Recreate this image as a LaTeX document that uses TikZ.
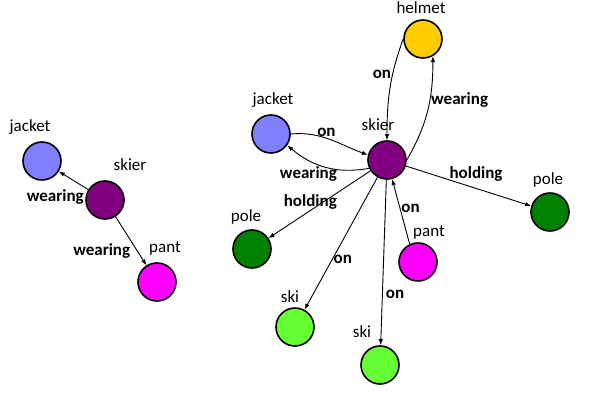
\documentclass[tikz,border=0pt]{standalone}
\usepackage{fontspec}
\setmainfont{Carlito}
\usetikzlibrary{arrows.meta, positioning}
\definecolor{jacketblue}{HTML}{8080FF}
\definecolor{skierpurple}{HTML}{800080}
\definecolor{pantpink}{HTML}{FF00FF}
\definecolor{helmetgold}{HTML}{FFCC00}
\definecolor{polegreen}{HTML}{008000}
\definecolor{skigreen}{HTML}{66FF33}

\begin{document}
\begin{tikzpicture}[
    x=1pt, y=1pt,
    % objetos del grafo de escena
    obj/.style={circle, draw=black, line width=1.6pt, minimum size=38pt, inner sep=0pt},
    objname/.style={font=\fontsize{17}{17}\selectfont, inner sep=0pt},
    % relaciones
    rel/.style={font=\fontsize{17}{17}\selectfont\bfseries, inner sep=1pt},
    arrow/.style={-{Latex[length=6pt, width=4.5pt]}, line width=0.9pt}
]
    \useasboundingbox (0,0) rectangle (598,408);

    % --- GRAFO IZQUIERDO ---
    \node[obj, fill=jacketblue]  (jacketL) at (42, 247)  {};
    \node[obj, fill=skierpurple] (skierL)  at (105, 208) {};
    \node[obj, fill=pantpink]    (pantL)   at (157, 126) {};

    \node[objname] (jacketLtxt) at (30, 281)  {jacket};
    \node[objname] (skierLtxt)  at (130, 243) {skier};
    \node[objname] (pantLtxt)   at (165, 160) {pant};

    \draw[arrow] (skierL) -- node[rel, pos=0.1, anchor=north east] (wearL1) {wearing} (jacketL);
    \draw[arrow] (skierL) -- node[rel, pos=0.52, anchor=north east] (wearL2) {wearing} (pantL);

    % --- GRAFO DERECHO ---
    \node[obj, fill=helmetgold]  (helmet)  at (423, 369) {};
    \node[obj, fill=jacketblue]  (jacketR) at (271, 274) {};
    \node[obj, fill=skierpurple] (skierR)  at (387, 248) {};
    \node[obj, fill=polegreen]   (poleR)   at (550, 196) {};
    \node[obj, fill=polegreen]   (poleL)   at (252, 159) {};
    \node[obj, fill=pantpink]    (pantR)   at (418, 146) {};
    \node[obj, fill=skigreen]    (skiA)    at (295, 81)  {};
    \node[obj, fill=skigreen]    (skiB)    at (380, 43)  {};

    \node[objname] (helmettxt)  at (421, 400) {helmet};
    \node[objname] (jacketRtxt) at (273, 308) {jacket};
    \node[objname] (skierRtxt)  at (378, 283) {skier};
    \node[objname] (poleRtxt)   at (548, 228) {pole};
    \node[objname] (poleLtxt)   at (246, 191) {pole};
    \node[objname] (pantRtxt)   at (429, 176) {pant};
    \node[objname] (skiAtxt)    at (290, 111) {ski};
    \node[objname] (skiBtxt)    at (362, 76)  {ski};

    % relaciones curvas (pares)
    \draw[arrow] (helmet.west) to[out=250, in=90] node[rel, pos=0.35, left] (onH) {on} (skierR.north);
    \draw[arrow] (skierR.east) to[out=60, in=270] node[rel, pos=0.6, right] (wearH) {wearing} (helmet.-60);
    \draw[arrow] (jacketR.east) to[out=5, in=160] node[rel, pos=0.45, above] (onJ) {on} (skierR.165);
    \draw[arrow] (skierR.205) to[out=190, in=-40] node[rel, pos=0.72, below=5pt] (wearJ) {wearing} (jacketR.-35);

    % relaciones rectas
    \draw[arrow] (skierR) -- node[rel, pos=0.56, above=6pt] (holdR) {holding} (poleR);
    \draw[arrow] (skierR) -- node[rel, pos=0.59, above] (holdL) {holding} (poleL);
    \draw[arrow] (skierR) -- node[rel, pos=0.62, right] (onA) {on} (skiA);
    \draw[arrow] (skierR) -- node[rel, pos=0.69, right=2pt] (onB) {on} (skiB);
    \draw[arrow] (pantR.115) -- node[rel, pos=0.55, right] (onP) {on} (skierR);

\end{tikzpicture}
\end{document}
